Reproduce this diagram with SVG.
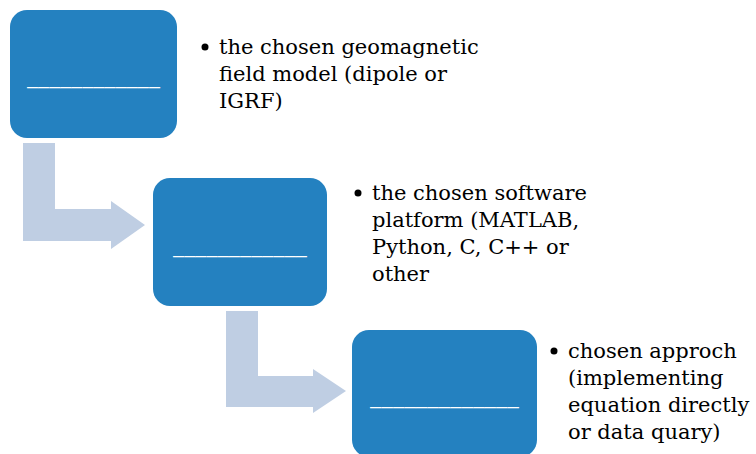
<svg xmlns="http://www.w3.org/2000/svg" width="756" height="454" viewBox="0 0 756 454">
<style>
.box{fill:#2481C0;}
.arrow{fill:#BFCEE3;}
.blank{font-family:"DejaVu Serif","Liberation Serif",serif;font-size:30px;fill:#FFFFFF;}
.txt{font-family:"DejaVu Serif","Liberation Serif",serif;font-size:21px;fill:#000000;}
.bullet{fill:#000000;}
</style>
<rect width="756" height="454" fill="#FFFFFF"/>
<g id="connectors">
<path class="arrow" d="M23,143 H55 V209 H111 V201 L145,225 L111,249 V241 H23 Z"/>
<path class="arrow" d="M226,311 H258 V376 H313 V369 L346,391 L313,413 V407 H226 Z"/>
</g>
<g id="node1">
<rect class="box" x="10" y="10" width="167" height="128" rx="17"/>
<text class="blank" x="27" y="81" textLength="133" lengthAdjust="spacingAndGlyphs">____________</text>
</g>
<g id="node2">
<rect class="box" x="153" y="178" width="174" height="128" rx="17"/>
<text class="blank" x="173" y="250" textLength="134" lengthAdjust="spacingAndGlyphs">____________</text>
</g>
<g id="node3">
<rect class="box" x="352" y="330" width="185" height="127" rx="17"/>
<text class="blank" x="370" y="401" textLength="149" lengthAdjust="spacingAndGlyphs">_____________</text>
</g>
<g id="label1">
<circle class="bullet" cx="205" cy="47" r="3.5"/>
<text class="txt" x="219" y="54">the chosen geomagnetic</text>
<text class="txt" x="219" y="81">field model (dipole or</text>
<text class="txt" x="219" y="108">IGRF)</text>
</g>
<g id="label2">
<circle class="bullet" cx="358" cy="193" r="3.5"/>
<text class="txt" x="372" y="200">the chosen software</text>
<text class="txt" x="372" y="227">platform (MATLAB,</text>
<text class="txt" x="372" y="254">Python, C, C++ or</text>
<text class="txt" x="372" y="281">other</text>
</g>
<g id="label3">
<circle class="bullet" cx="554" cy="351" r="3.5"/>
<text class="txt" x="568" y="358">chosen approch</text>
<text class="txt" x="568" y="385">(implementing</text>
<text class="txt" x="568" y="412">equation directly</text>
<text class="txt" x="568" y="439">or data quary)</text>
</g>
</svg>
